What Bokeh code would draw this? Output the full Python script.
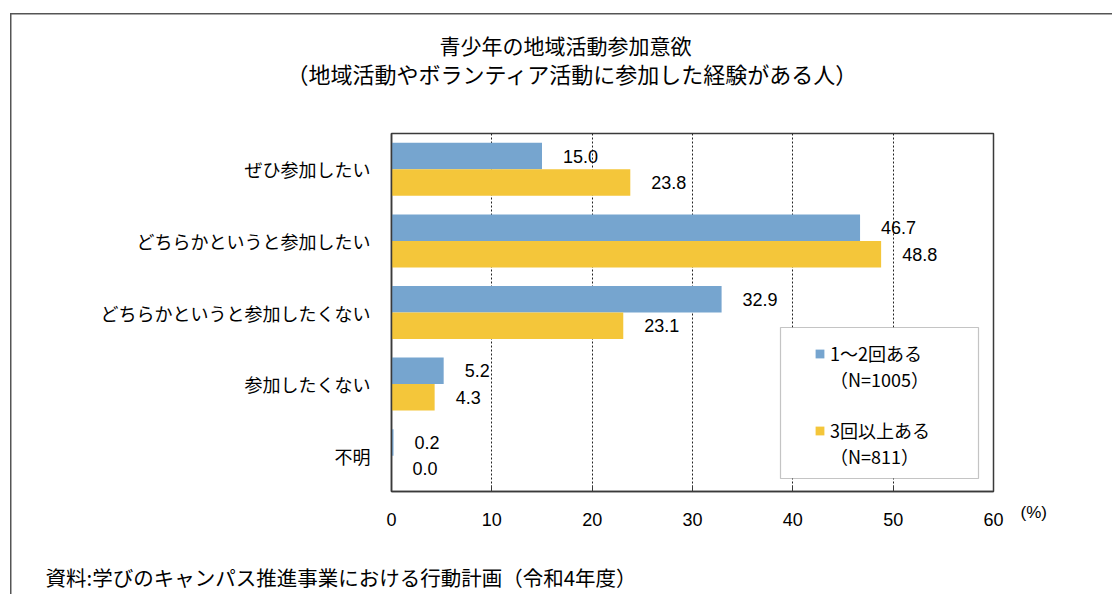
from bokeh.plotting import figure
from bokeh.models import (ColumnDataSource, FactorRange, Range1d, FixedTicker, LabelSet,
                          Label, Legend, LegendItem, BoxAnnotation)
from bokeh.transform import dodge
from bokeh.core.properties import value
from bokeh.embed import file_html
from bokeh.resources import INLINE

# ---- data ----
title_main = "青少年の地域活動参加意欲"
title_sub = "（地域活動やボランティア活動に参加した経験がある人）"
source_note = "資料:学びのキャンパス推進事業における行動計画（令和4年度）"
categories = ["ぜひ参加したい", "どちらかというと参加したい", "どちらかというと参加したくない",
              "参加したくない", "不明"]
series1_name = "1～2回ある"
series1_n = "（N=1005）"
series2_name = "3回以上ある"
series2_n = "（N=811）"
series1 = [15.0, 46.7, 32.9, 5.2, 0.2]
series2 = [23.8, 48.8, 23.1, 4.3, 0.0]
x_ticks = [0, 10, 20, 30, 40, 50, 60]
x_unit = "(%)"

# ---- style ----
JP = "Noto Sans CJK JP"
NUM = "Liberation Sans"
BLUE = "#76A5CF"
YELLOW = "#F4C63A"
DARK = "#3a3a3a"

src = ColumnDataSource(dict(
    cat=categories, s1=series1, s2=series2,
    l1=[f"{v:.1f}" for v in series1], l2=[f"{v:.1f}" for v in series2],
))

W, H = 1112, 594
p = figure(width=W, height=H, title=None,
           y_range=FactorRange(factors=list(reversed(categories))),
           x_range=Range1d(x_ticks[0], x_ticks[-1]),
           output_backend="svg", toolbar_location=None,
           min_border_left=391, min_border_right=W - 993, min_border_top=133,
           min_border_bottom=H - 491)
p.background_fill_color = "white"
p.border_fill_alpha = 0
p.outline_line_color = DARK
p.outline_line_width = 1.5
# outer chart border (only its left and top edges fall inside the window)
p.styles = {
    "background": ("linear-gradient(#555555,#555555) 10px 13px / 1.5px 100% no-repeat, "
                   "linear-gradient(#555555,#555555) 10px 13px / 100% 1.5px no-repeat, white"),
}

off = 0.185
r1 = p.hbar(y=dodge("cat", off, range=p.y_range), left=0, right="s1", height=0.37,
            source=src, fill_color=BLUE, line_color=None)
r2 = p.hbar(y=dodge("cat", -off, range=p.y_range), left=0, right="s2", height=0.37,
            source=src, fill_color=YELLOW, line_color=None)
dummy = p.scatter(x=[], y=[], fill_alpha=0, line_alpha=0)

for col, d in (("1", off), ("2", -off)):
    p.add_layout(LabelSet(x="s" + col, y=dodge("cat", d, range=p.y_range), text="l" + col,
                          source=src, x_offset=21, text_align="left", text_baseline="middle",
                          text_font=value(NUM), text_font_size="18px", text_color="black"))

# axes
p.xaxis.ticker = FixedTicker(ticks=x_ticks, minor_ticks=[])
p.xaxis.axis_line_color = DARK
p.xaxis.axis_line_width = 1.5
p.xaxis.major_tick_in = 6
p.xaxis.major_tick_out = 0
p.xaxis.major_tick_line_color = DARK
p.xaxis.minor_tick_line_color = None
p.xaxis.major_label_text_font = NUM
p.xaxis.major_label_text_font_size = "18px"
p.xaxis.major_label_text_color = "black"
p.xaxis.major_label_standoff = 21

p.yaxis.axis_line_color = DARK
p.yaxis.axis_line_width = 1.5
p.yaxis.major_tick_line_color = None
p.yaxis.minor_tick_line_color = None
p.yaxis.major_label_text_font = JP
p.yaxis.major_label_text_font_size = "18px"
p.yaxis.major_label_text_color = "black"
p.yaxis.major_label_standoff = 15

p.ygrid.grid_line_color = None
p.xgrid.grid_line_color = "#222222"
p.xgrid.grid_line_dash = "2 2"
p.xgrid.grid_line_width = 1

# legend box
p.add_layout(BoxAnnotation(left=389, right=587, top=164, bottom=13,
                           left_units="screen", right_units="screen",
                           top_units="screen", bottom_units="screen",
                           fill_color="white", fill_alpha=1, line_color=DARK, line_width=1.2))

legend = Legend(items=[
    LegendItem(label=value(series1_name), renderers=[r1]),
    LegendItem(label=value(series1_n), renderers=[dummy]),
    LegendItem(label=value(" "), renderers=[dummy]),
    LegendItem(label=value(series2_name), renderers=[r2]),
    LegendItem(label=value(series2_n), renderers=[dummy]),
], location=(423, 22), padding=0, margin=0, spacing=0, label_height=25,
    glyph_height=11, glyph_width=11, label_standoff=5,
    border_line_alpha=0, background_fill_alpha=0,
    label_text_font=JP, label_text_font_size="18px", label_text_color="black")
p.add_layout(legend)


def side_label(side, x, y, text, align, font, size):
    p.add_layout(Label(x=x, y=y, x_units="screen", y_units="screen", text=text,
                       text_align=align, text_baseline="middle", text_font=font,
                       text_font_size=size, text_color="black"), side)


# titles (first "above" panel sits next to the frame)
side_label("above", 181, 61, title_sub, "center", JP, "22px")
side_label("above", 174, 57, title_main, "center", JP, "21px")
# source note under the axis
side_label("below", -346, -18, source_note, "left", JP, "20.5px")
# unit of the value axis, right of the last tick label
side_label("right", 27, -21, x_unit, "left", NUM, "17px")

open("out.html", "w").write(file_html(p, INLINE))
